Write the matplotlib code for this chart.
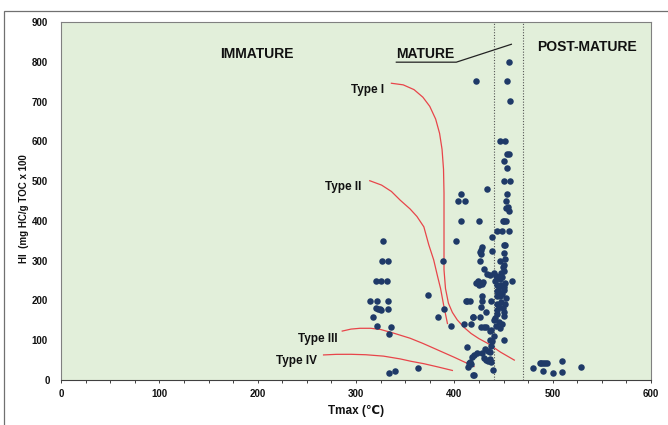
import numpy as np
import matplotlib.pyplot as plt
from matplotlib.patches import Rectangle
from matplotlib.transforms import ScaledTranslation

plt.rcParams['font.family'] = ['Liberation Sans', 'DejaVu Sans']

# Rock-Eval samples: Tmax (deg C) and hydrogen index
tmax = [
    # immature group
    327, 326, 333, 320, 325, 332, 314, 321, 333, 320, 322, 324, 325, 333,
    317, 321, 336, 334, 334, 339.5,
    # scattered mid-range samples
    363, 373, 388, 389, 383, 397, 402, 404, 406.5, 411, 407, 425.5, 422.4, 433,
    410, 417, 419, 412, 413, 416, 413, 415, 414, 419,
    # upper part of the main column
    455.7, 454, 457, 446, 452, 454, 456, 451, 454, 451, 457, 454, 453, 455,
    453, 456, 449, 451, 453, 443, 448.5, 456, 438, 450, 451.6,
    # dense cluster
    428.5, 427, 426, 427.5, 438, 426.5, 446, 430, 433, 436,
    440, 444, 446, 442, 447, 441, 448,
    422, 424, 426, 425, 428, 429, 459,
    443, 445, 447, 443, 445, 448, 446, 443, 450,
    428.5, 428, 437.7, 453, 443, 445, 427, 432, 443, 443,
    419, 426, 440, 445, 448, 442, 446, 441,
    427.5, 430, 432, 437, 440, 438.7, 437.7, 451, 436, 436,
    449, 450, 451, 447, 452, 450, 452, 449, 451, 450, 452, 451,
    431, 434, 436.7, 428, 423.5, 420, 418,
    430, 432, 434, 436, 437, 416, 417, 439, 419.5,
    # post-mature group
    480, 487, 488, 490, 492, 494, 490, 500.5, 509, 509, 529,
]
hi = [
    349, 299, 299, 249, 249, 249, 199, 199, 199, 180, 178, 178, 177, 178,
    159, 137, 132, 116, 18, 22,
    30, 214, 300, 178, 159, 137, 350, 450, 467, 450, 400, 400, 751, 480,
    142, 140, 159, 199, 199, 199, 84, 42, 33, 12,
    800, 751, 701, 601, 601, 568, 568, 550, 534, 500, 500, 467, 450, 436,
    432, 425, 400, 400, 400, 375, 375, 375, 360, 339, 339,
    334, 328, 321, 316, 325, 300, 300, 280, 266, 263,
    268, 260, 255, 262, 270, 250, 258,
    244, 248, 243, 240, 242, 246, 249,
    240, 235, 240, 225, 220, 215, 210, 212, 226,
    211, 199, 199, 205, 191, 184, 183, 172, 175, 165,
    158, 158, 150, 145, 140, 135, 130, 155,
    132, 132, 132, 126, 111, 98, 85, 100, 122, 101,
    180, 170, 160, 195, 190, 235, 245, 285, 275, 290, 305, 320,
    78, 74, 70, 69, 67, 64, 59,
    55, 50, 48, 52, 45, 46, 40, 25, 12,
    29, 42, 42, 42, 42, 42, 22, 17, 49, 19, 33,
]

# kerogen type evolution paths (Tmax, HI)
type1_t = [336, 348, 359, 368, 375, 381, 385, 387.5, 389, 389.5, 389.5, 389.5,
           389.5, 391, 394, 398, 403, 410, 417, 425, 434, 447, 461]
type1_hi = [746, 742, 730, 711, 688, 656, 620, 580, 530, 470, 400, 330,
            277, 230, 193, 170, 151, 132, 117, 104, 92, 70, 50]
type2_t = [314, 326, 336, 345, 355, 362, 369, 374, 379, 383, 386, 389, 393]
type2_hi = [501, 490, 474, 452, 430, 411, 385, 340, 302, 260, 230, 190, 142]
type3_t = [286, 295, 304, 315, 325, 338, 355, 368, 379, 400, 420]
type3_hi = [123, 128, 130, 130, 127, 118, 105, 92, 80, 57, 34]
type4_t = [267, 280, 295, 310, 328, 345, 356, 369, 383, 398]
type4_hi = [63, 64.5, 64.6, 63.5, 60, 53, 47, 41, 33, 24]

curves = [
    (type1_t, type1_hi, "Type I", 329, 729),
    (type2_t, type2_hi, "Type II", 305.5, 486),
    (type3_t, type3_hi, "Type III", 281, 104),
    (type4_t, type4_hi, "Type IV", 260, 48),
]

mature_window = [440, 470]

fig = plt.figure(figsize=(6.68, 4.25), dpi=100)
ax = fig.add_axes([61 / 668, 1 - 380 / 425, 590 / 668, 358 / 425])
ax.set_facecolor("#e2efda")

# thin frame round the whole figure (cut at right and bottom)
fig.patches.append(Rectangle((4 / 668, -0.1), 1.2, 1.1 - 11 / 425,
                             transform=fig.transFigure, fill=False,
                             ec="#707070", lw=0.9))

for t, h, name, lx, ly in curves:
    ax.plot(t, h, color="#e8454a", lw=0.9, zorder=2)
    ax.text(lx, ly, name, ha="right", va="center", fontsize=8.5,
            fontweight="bold", color="#111111")

for x in mature_window:
    ax.axvline(x, color="#555555", ls=(0, (1, 1.5)), lw=0.8, zorder=1)

ax.scatter(tmax, hi, s=22, color="#1f3a68", zorder=3, linewidths=0)

# zone labels
ax.text(199.5, 819, "IMMATURE", ha="center", va="center", fontsize=10,
        fontweight="bold", color="#111111")
ax.text(341, 819, "MATURE", ha="left", va="center", fontsize=10,
        fontweight="bold", color="#111111")
ax.plot([341, 402, 458], [799, 799, 844], color="#222222", lw=0.9)
ax.text(534.5, 836, "POST-MATURE", ha="center", va="center", fontsize=10,
        fontweight="bold", color="#111111")

ax.set_xlim(0, 600)
ax.set_ylim(0, 900)
ax.set_xticks(np.arange(0, 601, 100))
ax.set_xticks(np.arange(0, 601, 25), minor=True)
ax.set_yticks(np.arange(0, 901, 100))

for s in ax.spines.values():
    s.set_color("#808080")
    s.set_linewidth(0.8)
ax.spines["bottom"].set_color("#404040")

ax.tick_params(axis="x", which="both", direction="out", length=2.5,
               width=0.7, color="#404040", pad=4)
ax.tick_params(axis="y", which="both", length=0, pad=9.5)
for lab in ax.get_xticklabels() + ax.get_yticklabels():
    lab.set_fontsize(7)
    lab.set_fontweight("bold")
    lab.set_color("#111111")
# the zero on the value axis sits closer to the origin
ylabs = ax.get_yticklabels()
ylabs[0].set_transform(ylabs[0].get_transform()
                       + ScaledTranslation(2 / 100, 0, fig.dpi_scale_trans))

ax.set_xlabel("Tmax (℃)", fontsize=8.5, fontweight="bold", labelpad=4,
              color="#111111")
ax.set_ylabel("HI  (mg HC/g TOC x 100", fontsize=7, fontweight="bold",
              color="#111111")
ax.yaxis.set_label_coords(-0.054, 0.48)

fig.savefig("out.png", dpi=100)
